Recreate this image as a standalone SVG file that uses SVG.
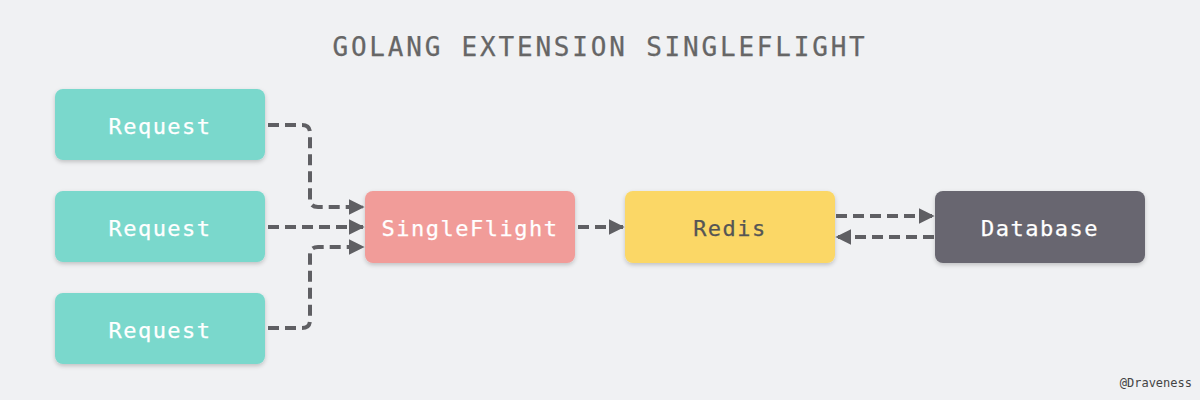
<svg xmlns="http://www.w3.org/2000/svg" width="1200" height="400" viewBox="0 0 1200 400">
<defs>
<marker id="ah" viewBox="0 0 10 10" refX="9" refY="5" markerWidth="4" markerHeight="4" orient="auto" markerUnits="strokeWidth"><path d="M0,0 L10,5 L0,10 z" fill="#5f5f63"/></marker>
<filter id="sh" x="-10%" y="-10%" width="120%" height="130%"><feDropShadow dx="0" dy="2" stdDeviation="2" flood-color="#000" flood-opacity="0.2"/></filter>
</defs>
<style>
.t{font-family:"DejaVu Sans Mono","Liberation Mono",monospace;font-size:22px;letter-spacing:1.5px;text-anchor:middle;dominant-baseline:central;stroke-width:0.25px}
.c{fill:none;stroke:#5f5f63;stroke-width:4;stroke-dasharray:11 6;marker-end:url(#ah)}
</style>
<rect width="1200" height="400" fill="#f0f1f3"/>
<text x="600" y="47" class="t" style="font-size:26px;fill:#666;stroke:#666;letter-spacing:2.8px">GOLANG EXTENSION SINGLEFLIGHT</text>
<g id="req1"><rect x="55" y="89" width="210" height="71" rx="8" fill="#7ad8cc" filter="url(#sh)"/><text x="160" y="126" class="t" fill="#fff" stroke="#fff">Request</text></g>
<g id="req2"><rect x="55" y="191" width="210" height="71" rx="8" fill="#7ad8cc" filter="url(#sh)"/><text x="160" y="228" class="t" fill="#fff" stroke="#fff">Request</text></g>
<g id="req3"><rect x="55" y="293" width="210" height="71" rx="8" fill="#7ad8cc" filter="url(#sh)"/><text x="160" y="330" class="t" fill="#fff" stroke="#fff">Request</text></g>
<g id="sf"><rect x="365" y="191" width="210" height="72" rx="8" fill="#f19c99" filter="url(#sh)"/><text x="470" y="228" class="t" fill="#fff" stroke="#fff">SingleFlight</text></g>
<g id="redis"><rect x="625" y="191" width="210" height="72" rx="8" fill="#fbd766" filter="url(#sh)"/><text x="730" y="228" class="t" fill="#555" stroke="#555">Redis</text></g>
<g id="db"><rect x="935" y="191" width="210" height="72" rx="8" fill="#67666f" filter="url(#sh)"/><text x="1040" y="228" class="t" fill="#fff" stroke="#fff">Database</text></g>
<g id="connectors">
<path class="c" d="M268,125 H302 Q310,125 310,133 V199 Q310,207 318,207 H363"/>
<path class="c" d="M268,227 H363"/>
<path class="c" d="M268,328 H302 Q310,328 310,320 V255 Q310,247 318,247 H363"/>
<path class="c" d="M578,227 H623"/>
<path class="c" d="M836,216 H933"/>
<path class="c" d="M934,237 H837"/>
</g>
<text x="1192" y="387" style="font-family:'DejaVu Sans Mono',monospace;font-size:12px;fill:#444;text-anchor:end">@Draveness</text>
</svg>
